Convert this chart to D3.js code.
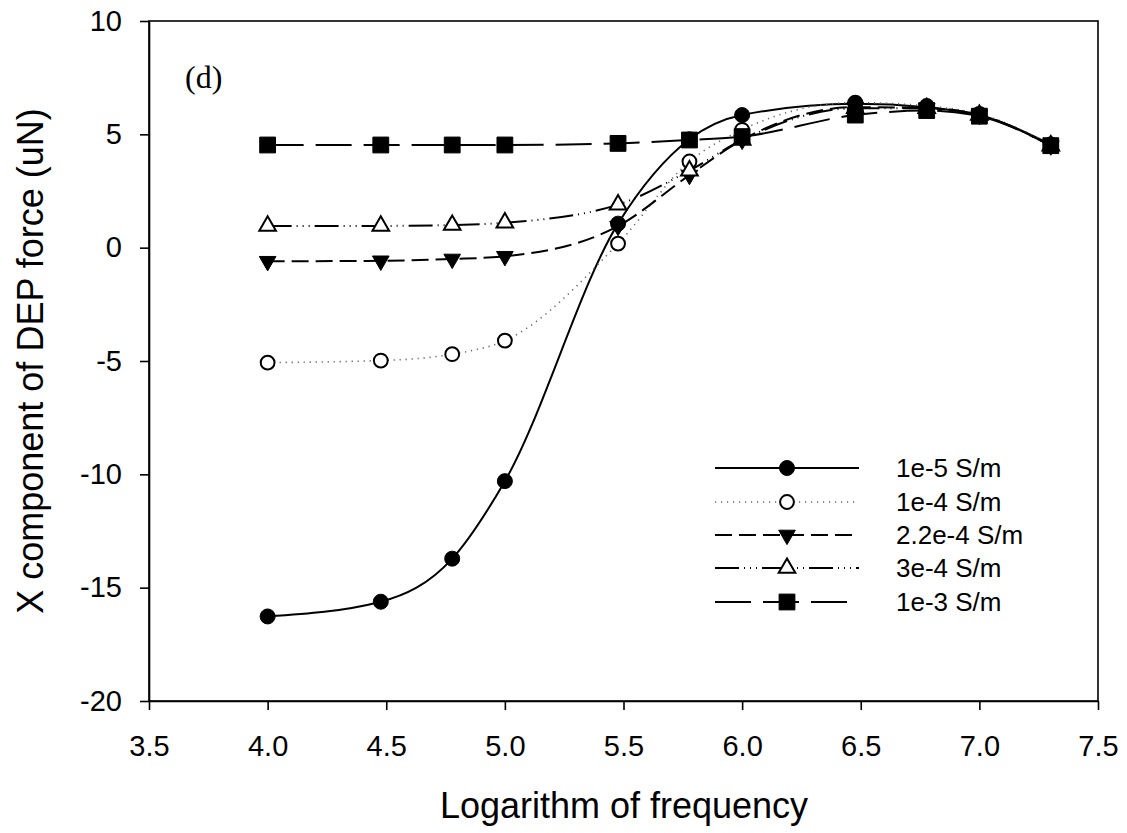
<!DOCTYPE html>
<html lang="en">
<head>
  <meta charset="UTF-8">
  <title>X component of DEP force</title>
  <script src="https://d3js.org/d3.v7.min.js"></script>
  <style>
    body { margin: 0; background: #fff; }
    svg { display: block; }
    .tick text { font-family: "Liberation Sans", Arial, sans-serif; font-size: 29px; fill: #000; }
    .axis-title { font-family: "Liberation Sans", Arial, sans-serif; font-size: 36px; fill: #000; }
    .legend text { font-family: "Liberation Sans", Arial, sans-serif; font-size: 26px; fill: #000; }
  </style>
</head>
<body>
  <svg width="1127" height="833"></svg>

  <script>
    // log10 of frequency
    const logFreq = [4.0, 4.477, 4.778, 5.0, 5.477, 5.778, 6.0, 6.477, 6.778, 7.0, 7.301];

    const cond1e5  = [-16.27, -15.62, -13.72, -10.3, 1.06, 4.78, 5.85, 6.35, 6.2, 5.85, 4.55];
    const cond1e4  = [-5.07, -4.98, -4.7, -4.1, 0.18, 3.8, 5.2, 6.4, 6.25, 5.9, 4.55];
    const cond22e4 = [-0.6, -0.58, -0.5, -0.38, 0.95, 3.2, 4.75, 6.2, 6.15, 5.85, 4.5];
    const cond3e4  = [0.96, 0.96, 1.0, 1.1, 1.9, 3.4, 4.75, 6.15, 6.15, 5.85, 4.5];
    const cond1e3  = [4.53, 4.53, 4.53, 4.53, 4.6, 4.75, 4.9, 5.85, 6.05, 5.8, 4.5];

    const seriesNames = ["1e-5 S/m", "1e-4 S/m", "2.2e-4 S/m", "3e-4 S/m", "1e-3 S/m"];
    const xTicks = [3.5, 4.0, 4.5, 5.0, 5.5, 6.0, 6.5, 7.0, 7.5];
    const yTicks = [-20, -15, -10, -5, 0, 5, 10];

    const series = [
      {name: seriesNames[0], values: cond1e5,  symbol: d3.symbolCircle,   size: 177, rot: 0,   fill: "#000", dash: null,                   stroke: "#000", sw: 2},
      {name: seriesNames[1], values: cond1e4,  symbol: d3.symbolCircle,   size: 150, rot: 0,   fill: "#fff", dash: "1.2,4.8",              stroke: "#666", sw: 1.6},
      {name: seriesNames[2], values: cond22e4, symbol: d3.symbolTriangle, size: 120, rot: 180, fill: "#000", dash: "17,7",                 stroke: "#000", sw: 2},
      {name: seriesNames[3], values: cond3e4,  symbol: d3.symbolTriangle, size: 120, rot: 0,   fill: "#fff", dash: "24,5,1,5,1,5,1,5",     stroke: "#000", sw: 2},
      {name: seriesNames[4], values: cond1e3,  symbol: d3.symbolSquare,   size: 250, rot: 0,   fill: "#000", dash: "36,12",                stroke: "#000", sw: 2}
    ];

    const svg = d3.select("svg");
    const x = d3.scaleLinear().domain([3.5, 7.5]).range([149, 1098]);
    const y = d3.scaleLinear().domain([-20, 10]).range([701, 21]);

    // frame
    svg.append("rect")
      .attr("x", x(3.5)).attr("y", y(10))
      .attr("width", x(7.5) - x(3.5)).attr("height", y(-20) - y(10))
      .attr("fill", "none").attr("stroke", "#000").attr("stroke-width", 1.6);

    const xAxis = svg.append("g")
      .attr("transform", `translate(0,${y(-20)})`)
      .call(d3.axisBottom(x).tickValues(xTicks).tickFormat(d => d.toFixed(1))
        .tickSizeInner(9).tickSizeOuter(0).tickPadding(25));
    const yAxis = svg.append("g")
      .attr("transform", `translate(${x(3.5)},0)`)
      .call(d3.axisLeft(y).tickValues(yTicks).tickFormat(d => String(d))
        .tickSizeInner(9).tickSizeOuter(0).tickPadding(18));
    [xAxis, yAxis].forEach(a => {
      a.select(".domain").attr("stroke", "#000").attr("stroke-width", 1.6);
      a.selectAll(".tick line").attr("stroke", "#000").attr("stroke-width", 1.6);
    });

    // axis titles
    svg.append("text").attr("class", "axis-title")
      .attr("x", 624).attr("y", 818).attr("text-anchor", "middle")
      .text("Logarithm of frequency");
    svg.append("text").attr("class", "axis-title")
      .attr("transform", "translate(43,361) rotate(-90)")
      .attr("text-anchor", "middle")
      .text("X component of DEP force (uN)");

    svg.append("text")
      .attr("x", 185).attr("y", 88)
      .style("font-family", "'Liberation Serif', 'Times New Roman', serif")
      .style("font-size", "32px")
      .text("(d)");

    const line = d3.line()
      .x((d, i) => x(logFreq[i]))
      .y(d => y(d))
      .curve(d3.curveMonotoneX);

    // lines first, then symbols
    series.forEach(s => {
      svg.append("path")
        .attr("d", line(s.values))
        .attr("fill", "none")
        .attr("stroke", s.stroke)
        .attr("stroke-width", s.sw)
        .attr("stroke-dasharray", s.dash);
    });

    const symOrder = [2, 1, 3, 4, 0];
    symOrder.forEach(k => {
      const s = series[k];
      svg.append("g").selectAll("path")
        .data(s.values)
        .join("path")
        .attr("d", d3.symbol().type(s.symbol).size(s.size))
        .attr("transform", (d, i) => `translate(${x(logFreq[i])},${y(d)}) rotate(${s.rot})`)
        .attr("fill", s.fill)
        .attr("stroke", "#000")
        .attr("stroke-width", s.fill === "#fff" ? 2 : 1);
    });

    // legend
    const legendRows = [468, 502, 535, 568, 602];
    const legend = svg.append("g").attr("class", "legend");
    series.forEach((s, i) => {
      const ly = legendRows[i];
      legend.append("line")
        .attr("x1", 715).attr("x2", 859).attr("y1", ly).attr("y2", ly)
        .attr("stroke", s.stroke).attr("stroke-width", s.sw)
        .attr("stroke-dasharray", s.dash);
      legend.append("path")
        .attr("d", d3.symbol().type(s.symbol).size(s.size))
        .attr("transform", `translate(787,${ly}) rotate(${s.rot})`)
        .attr("fill", s.fill)
        .attr("stroke", "#000")
        .attr("stroke-width", s.fill === "#fff" ? 2 : 1);
      legend.append("text")
        .attr("x", 896).attr("y", ly)
        .attr("dy", "0.35em")
        .text(s.name);
    });
  </script>
</body>
</html>
